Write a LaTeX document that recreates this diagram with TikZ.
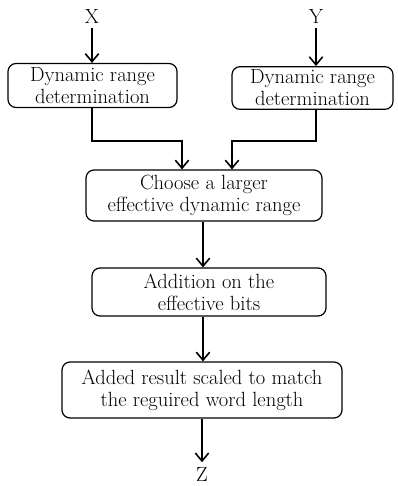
\documentclass[tikz,border=0pt]{standalone}
\usetikzlibrary{positioning, arrows.meta, calc}

\begin{document}
\begin{tikzpicture}[x=0.75pt, y=-0.75pt,
    font=\fontsize{15.4}{16.5}\selectfont,
    blk/.style={draw, rounded corners=6pt, line width=0.9pt, align=center, inner sep=0pt},
    arr/.style={line width=1.4pt, -{Straight Barb[length=6pt, width=10pt, line width=1.2pt]}}]
        \useasboundingbox (0,0) rectangle (397,486);
        % inputs
        \node (X) at (92,16) {X};
        \node (Y) at (316,16) {Y};
        \node[blk, minimum width=126.75pt, minimum height=33pt] (dynL) at (92.5,85.5)
          {Dynamic range\\determination};
        \node[blk, minimum width=120.75pt, minimum height=32pt] (dynR) at (312.5,88)
          {Dynamic range\\determination};
        \node[blk, minimum width=177pt, minimum height=38.25pt] (choose) at (204,195.5)
          {Choose a larger\\effective dynamic range};
        \node[blk, minimum width=175.5pt, minimum height=36pt] (addbits) at (209,292)
          {Addition on the\\effective bits};
        \node[blk, minimum width=210pt, minimum height=42pt] (scaled) at (202,390)
          {Added result scaled to match\\the reguired word length};
        \node (Z) at (202,474) {Z};
        % connectors
        \draw[arr] (X) -- (X |- dynL.north);
        \draw[arr] (Y) -- (Y |- dynR.north);
        \draw[arr] (dynL.south -| X) -- ++(0,33) -| ($(choose.north)+(-22,0)$);
        \draw[arr] (dynR.south -| Y) -- ++(0,31) -| ($(choose.north)+(28,0)$);
        \draw[arr] (choose.south -| 203,0) -- (addbits.north -| 203,0);
        \draw[arr] (addbits.south -| 203,0) -- (scaled.north -| 203,0);
        \draw[arr] (scaled.south) -- (Z);
      \end{tikzpicture}
\end{document}
